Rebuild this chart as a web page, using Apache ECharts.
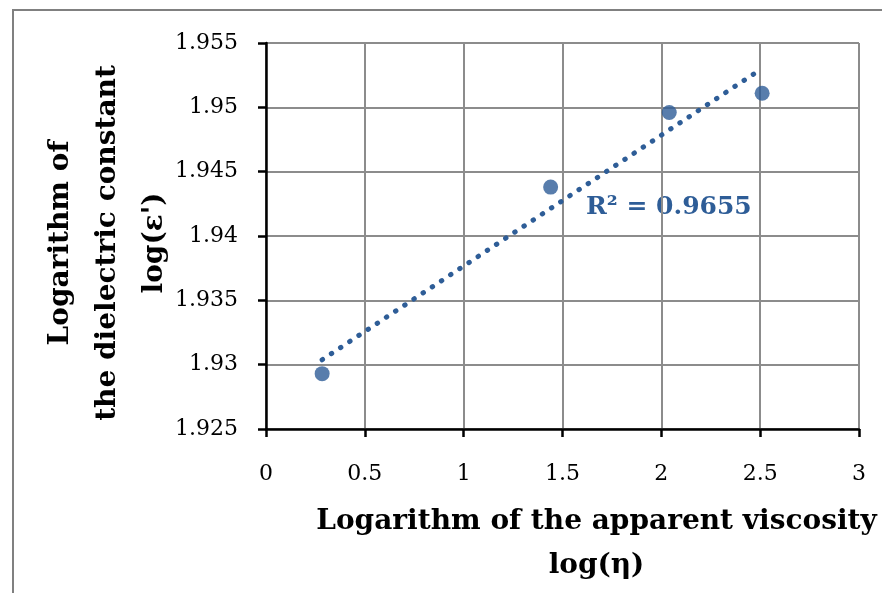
<!DOCTYPE html>
<html>
<head>
<meta charset="utf-8">
<script src="https://cdn.jsdelivr.net/npm/echarts@6/dist/echarts.min.js"></script>
<style>
  html, body { margin: 0; padding: 0; background: #fff; }
  #main { width: 882px; height: 593px; }
</style>
</head>
<body>
<div id="main"></div>
<script>
// data
var logViscosity = [0.284, 1.44, 2.04, 2.51];
var logPermittivity = [1.9293, 1.9438, 1.9496, 1.9511];
var r2Text = 'R² = 0.9655';
var xTicks = [0, 0.5, 1, 1.5, 2, 2.5, 3];
var yTicks = [1.925, 1.93, 1.935, 1.94, 1.945, 1.95, 1.955];

var blue = '#2E5D97';
var serif = 'DejaVu Serif';

// least squares trend line from the points
function linearFit(xs, ys) {
    var n = xs.length, mx = 0, my = 0;
    for (var i = 0; i < n; i++) { mx += xs[i]; my += ys[i]; }
    mx /= n; my /= n;
    var sxy = 0, sxx = 0;
    for (var j = 0; j < n; j++) {
        sxy += (xs[j] - mx) * (ys[j] - my);
        sxx += (xs[j] - mx) * (xs[j] - mx);
    }
    var k = sxy / sxx;
    return { k: k, b: my - k * mx };
}
var fit = linearFit(logViscosity, logPermittivity);
var xFirst = logViscosity[0], xLast = logViscosity[logViscosity.length - 1];
var trendData = [[xFirst, fit.b + fit.k * xFirst], [xLast, fit.b + fit.k * xLast]];

var pointData = logViscosity.map(function (x, i) { return [x, logPermittivity[i]]; });

var chart = echarts.init(document.getElementById('main'));

var option = {
    animation: false,
    backgroundColor: '#fff',
    grid: { left: 266, top: 43, right: 23, bottom: 162 },
    graphic: [{
        type: 'rect',
        shape: { x: 13, y: 10, width: 900, height: 620 },
        style: { fill: 'none', stroke: '#808080', lineWidth: 2 },
        silent: true
    }, {
        type: 'text',
        left: 586,
        top: 195,
        style: { text: r2Text, fill: blue, font: 'bold 25px "' + serif + '"' }
    }],
    xAxis: {
        type: 'value',
        min: xTicks[0],
        max: xTicks[xTicks.length - 1],
        interval: 0.5,
        name: 'Logarithm of the apparent viscosity\nlog(η)',
        nameLocation: 'middle',
        nameGap: 71,
        nameMoveOverlap: false,
        nameTextStyle: {
            fontFamily: serif, fontWeight: 'bold', fontSize: 28, color: '#000',
            lineHeight: 44, padding: [0, 0, 0, 68]
        },
        axisLine: { onZero: false, lineStyle: { color: '#000', width: 2.5 } },
        axisTick: { show: true, length: 8, lineStyle: { color: '#000', width: 2.5 } },
        axisLabel: { fontFamily: serif, fontSize: 22, color: '#000', margin: 34 },
        splitLine: { show: true, lineStyle: { color: '#8c8c8c', width: 2 } }
    },
    yAxis: {
        type: 'value',
        min: yTicks[0],
        max: yTicks[yTicks.length - 1],
        interval: 0.005,
        name: "Logarithm of\nthe dielectric constant\nlog(ε')",
        nameLocation: 'middle',
        nameRotate: 90,
        nameGap: 88,
        nameMoveOverlap: false,
        nameTextStyle: {
            fontFamily: serif, fontWeight: 'bold', fontSize: 28, color: '#000',
            lineHeight: 47, padding: [0, 14, 0, 0]
        },
        axisLine: { show: true, onZero: false, lineStyle: { color: '#000', width: 2.5 } },
        axisTick: { show: true, length: 8, lineStyle: { color: '#000', width: 2.5 } },
        axisLabel: {
            fontFamily: serif, fontSize: 22, color: '#000', margin: 28,
            formatter: function (v) { return String(+v.toFixed(3)); }
        },
        splitLine: { show: true, lineStyle: { color: '#8c8c8c', width: 2 } }
    },
    series: [{
        name: 'trend',
        type: 'line',
        data: trendData,
        symbol: 'none',
        lineStyle: { color: blue, width: 5, type: [0.5, 10.5], cap: 'round' },
        z: 3
    }, {
        name: 'points',
        type: 'scatter',
        data: pointData,
        symbolSize: 15,
        itemStyle: { color: blue },
        z: 4
    }]
};

chart.setOption(option);
</script>
</body>
</html>
